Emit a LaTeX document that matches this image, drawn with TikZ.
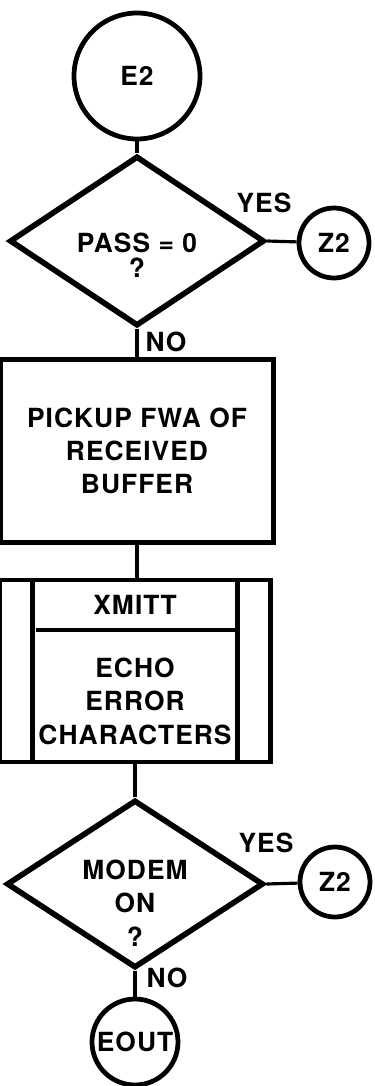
\documentclass[tikz,border=0pt]{standalone}
\usepackage{fontspec}
\setmainfont{TeX Gyre Heros}
\newfontfamily\chartfamily[LetterSpace=4]{TeX Gyre Heros}
\usetikzlibrary{shapes.geometric}

\newcommand\chartfont{\chartfamily\fontsize{15}{19}\selectfont\bfseries}

\begin{document}
\begin{tikzpicture}[x=0.02cm, y=-0.02cm,
		connector/.style={line width=1.8pt},
		terminal/.style={circle, draw, line width=2.7pt, inner sep=0pt, font=\chartfont},
		decision/.style={diamond, draw, line width=3.2pt, aspect=1.5, inner sep=0pt},
		process/.style={rectangle, draw, line width=2.8pt, align=center, font=\chartfont},
		boxtext/.style={align=center, inner sep=0pt, font=\chartfont},
		branchlabel/.style={inner sep=1pt, font=\chartfont}]
	\useasboundingbox (0,0) rectangle (375,1086);
	
	% entry and first test
	\node[terminal, minimum size=2.52cm] (e2) at (137,76) {E2};
	\node[decision, minimum width=5.1cm, minimum height=3.4cm] (pass) at (137,241) {};
	\node[boxtext] (passtext) at (137,255) {PASS = 0\\[-5pt]?};
	\node[terminal, minimum size=1.4cm] (z2a) at (334,243) {Z2};
	\node[branchlabel] (yes1) at (264,203) {YES};
	\node[branchlabel] (no1) at (166,342) {NO};
	
	% boxes
	\node[process, minimum width=5.46cm, minimum height=3.66cm] (pickup) at (137,451) {PICKUP FWA OF\\RECEIVED\\BUFFER};
	\node[process, minimum width=5.42cm, minimum height=3.64cm] (xmittbox) at (135,671) {};
	\draw[line width=2.8pt] ([xshift=0.7cm]xmittbox.north west) -- ([xshift=0.7cm]xmittbox.south west);
	\draw[line width=2.8pt] ([xshift=-0.7cm]xmittbox.north east) -- ([xshift=-0.7cm]xmittbox.south east);
	\draw[line width=2.8pt] (36,630) -- (235,630);
	\node[boxtext] (xmitt) at (135,605) {XMITT};
	\node[boxtext] (echo) at (135,701) {ECHO\\ERROR\\CHARACTERS};
	
	% second test and exits
	\node[decision, minimum width=5.14cm, minimum height=3.36cm] (modem) at (135,884) {};
	\node[boxtext] (modemtext) at (135,903) {MODEM\\ON\\?};
	\node[terminal, minimum size=1.4cm] (z2b) at (335,882) {Z2};
	\node[branchlabel] (yes2) at (266,843) {YES};
	\node[branchlabel] (no2) at (167,978) {NO};
	\node[terminal, minimum size=1.72cm] (eout) at (135,1042) {EOUT};
	
	% connectors
	\draw[connector] (e2) -- (pass);
	\draw[connector] (pass.east) -- (z2a);
	\draw[connector] (pass.south) -- (pickup);
	\draw[connector] (pickup.south) -- (pickup.south |- xmittbox.north);
	\draw[connector] (xmittbox) -- (modem);
	\draw[connector] (modem.east) -- (z2b);
	\draw[connector] (modem.south) -- (eout);
\end{tikzpicture}
\end{document}
